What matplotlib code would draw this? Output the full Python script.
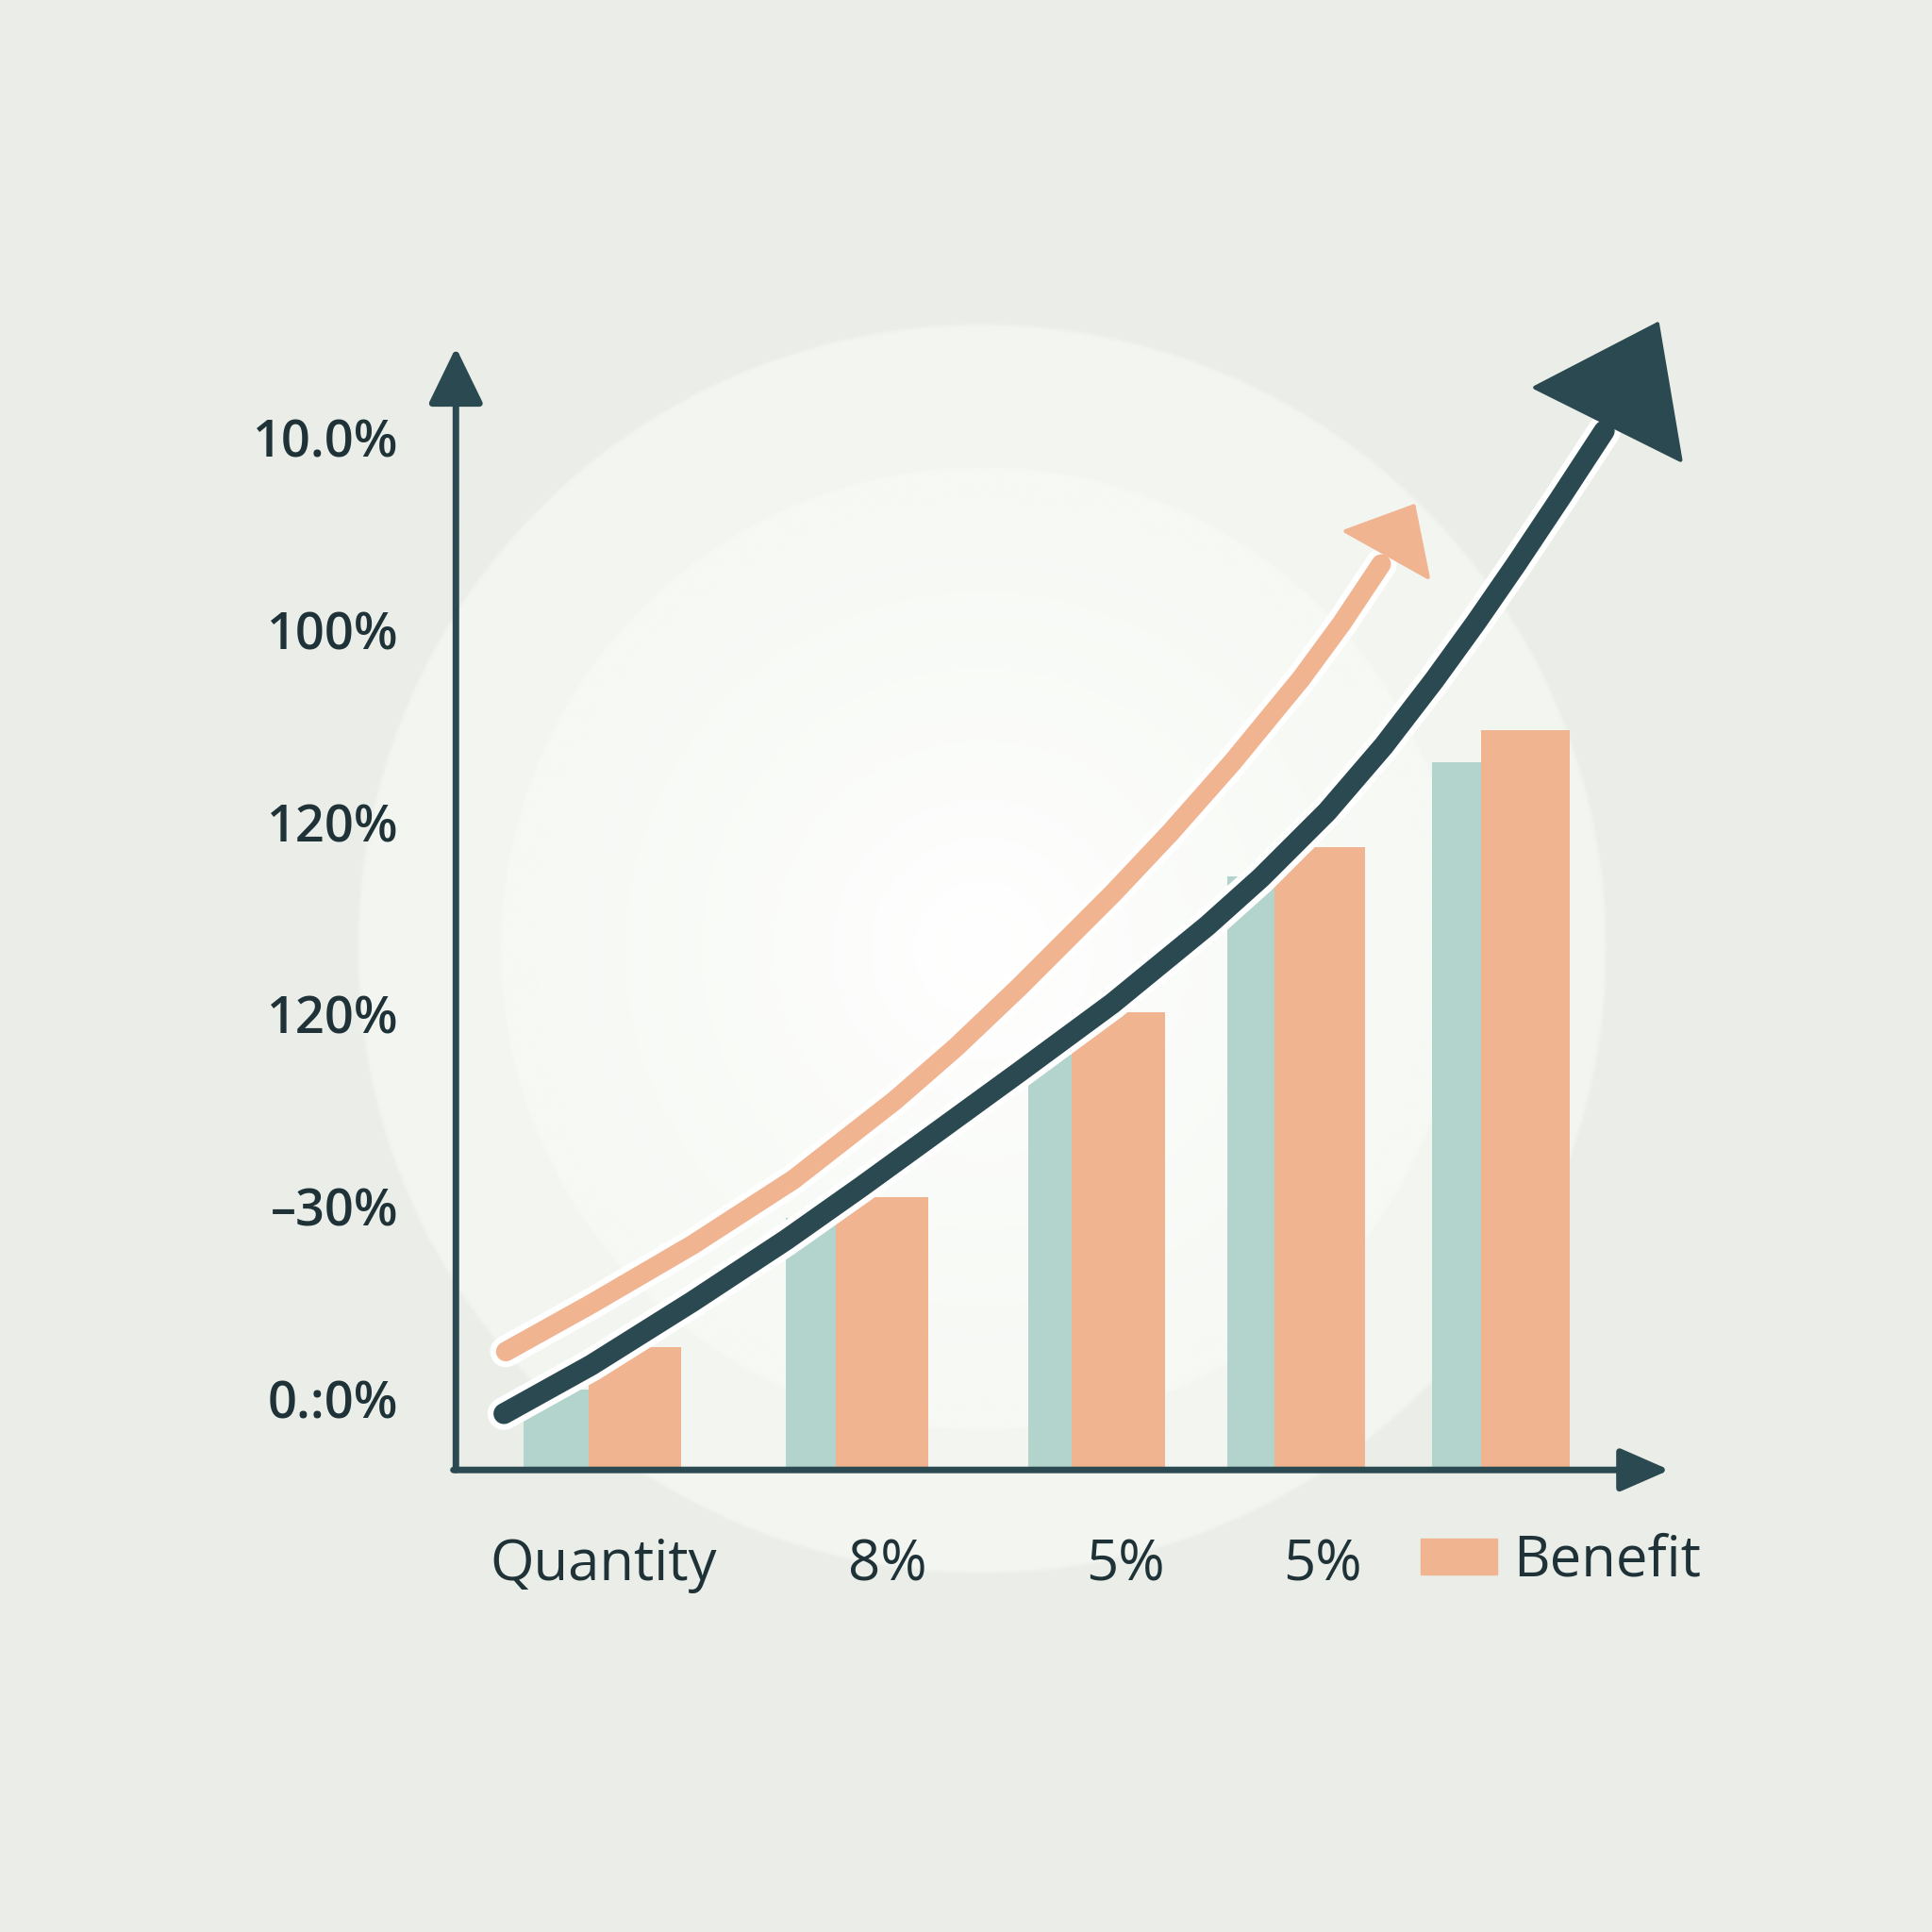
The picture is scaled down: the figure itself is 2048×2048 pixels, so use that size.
import numpy as np
import matplotlib
matplotlib.use("Agg")
import matplotlib.pyplot as plt
import matplotlib.patheffects as pe
from matplotlib.patches import Patch

# ----------------------------
# Dados
# ----------------------------
y_tick_labels = ["0.:0%", "\u201330%", "120%", "120%", "100%", "10.0%"]
x_tick_labels = ["Quantity", "8%", "5%", "5%"]
x_tick_pos = [1.20, 3.50, 5.43, 7.03]

# topo das barras (unidades do eixo y, 0 = "0.:0%")
quantity = [0.05, 0.94, 1.79, 2.72, 3.31]
benefit = [0.27, 1.05, 2.01, 2.87, 3.48]

# curvas de tendência (pontos lidos)
dark_x = [0.39, 1.10, 1.92, 2.68, 3.29, 3.80, 4.57, 5.33, 6.10, 6.535,
          7.07, 7.53, 7.94, 8.28, 8.60, 8.96, 9.32]
dark_y = [-0.077, 0.176, 0.506, 0.827, 1.103, 1.340, 1.699, 2.058, 2.462,
          2.712, 3.054, 3.397, 3.739, 4.040, 4.337, 4.683, 5.036]
dark_tip = (9.764, 5.607)

orange_x = [0.405, 1.10, 1.92, 2.74, 3.56, 4.06, 4.57, 5.335, 5.80, 6.30,
            6.86, 7.19, 7.51]
orange_y = [0.246, 0.494, 0.801, 1.141, 1.551, 1.830, 2.141, 2.631, 2.947,
            3.310, 3.747, 4.035, 4.343]
orange_tip = (7.785, 4.658)

# ----------------------------
# Layout / estilo
# ----------------------------
group_split = [1.074, 3.086, 5.00, 6.645, 8.32]
teal_w = [0.527, 0.407, 0.353, 0.385, 0.40]
orange_w = [0.755, 0.749, 0.756, 0.733, 0.72]

DARK = "#2b4950"
ORANGE = "#f0b491"
TEAL = "#b3d4cd"
TEXT = "#1e3237"
FONT = ["Open Sans", "DejaVu Sans"]

D = 1568.0  # escala de leitura da imagem
YMIN, YMAX = -0.37, 5.47
XMIN, XMAX = 0.0, 9.85

fig = plt.figure(figsize=(20.48, 20.48), dpi=100)

# ----------------------------
# Fundo com brilho radial
# ----------------------------
bg = fig.add_axes([0, 0, 1, 1])
yy, xx = np.mgrid[0:1568:2, 0:1568:2] + 1.0
r = np.hypot(xx - 797, yy - 770)
base = np.array([235, 238, 232]) / 255
c1 = np.array([243, 246, 240]) / 255
c2 = np.array([246, 249, 244]) / 255
img = np.ones(r.shape + (3,)) * base
m1 = np.clip((508 - r) / 3, 0, 1)[..., None]
img = img * (1 - m1) + c1 * m1
m2 = np.clip((392 - r) / 3, 0, 1)[..., None]
img = img * (1 - m2) + c2 * m2
glow = (np.clip(1 - r / 360, 0, 1) ** 1.1)[..., None]
img = img * (1 - glow) + np.ones(3) * glow
bg.imshow(img, extent=(0, 1568, 1568, 0), interpolation="bilinear")
bg.set_xlim(0, 1568)
bg.set_ylim(1568, 0)
bg.axis("off")

# ----------------------------
# Eixo principal
# ----------------------------
ax = fig.add_axes([370 / D, 1 - 1193 / D, 985 / D, 911 / D])
ax.set_facecolor("none")
ax.set_xlim(XMIN, XMAX)
ax.set_ylim(YMIN, YMAX)
for s in ax.spines.values():
    s.set_visible(False)

gx = np.array(group_split)
ax.bar(gx, np.array(quantity) - YMIN, width=-np.array(teal_w), bottom=YMIN,
       align="edge", color=TEAL, zorder=2)
ax.bar(gx, np.array(benefit) - YMIN, width=orange_w, bottom=YMIN,
       align="edge", color=ORANGE, zorder=2, label="Benefit")

# eixos com setas
ax.annotate("", xy=(0, YMAX), xytext=(0, YMIN), annotation_clip=False,
            arrowprops=dict(arrowstyle="-|>,head_length=37,head_width=18",
                            mutation_scale=1, color=DARK, lw=5,
                            shrinkA=0, shrinkB=0), zorder=5)
ax.annotate("", xy=(XMAX, YMIN), xytext=(-0.02, YMIN), annotation_clip=False,
            arrowprops=dict(arrowstyle="-|>,head_length=32,head_width=14",
                            mutation_scale=1, color=DARK, lw=5,
                            shrinkA=0, shrinkB=0), zorder=5)

# curvas de tendência
halo = lambda w: [pe.Stroke(linewidth=w + 9, foreground="white"), pe.Normal()]
ax.plot(orange_x, orange_y, color=ORANGE, lw=15, solid_capstyle="round",
        solid_joinstyle="round", zorder=3, clip_on=False, path_effects=halo(15))
ax.plot(dark_x, dark_y, color=DARK, lw=16, solid_capstyle="round",
        solid_joinstyle="round", zorder=4, clip_on=False, path_effects=halo(16))

ax.annotate("", xy=orange_tip, xytext=(orange_x[-1], orange_y[-1]),
            annotation_clip=False,
            arrowprops=dict(arrowstyle="-|>,head_length=42,head_width=36",
                            mutation_scale=1, color=ORANGE, lw=3,
                            joinstyle="round", shrinkA=0, shrinkB=0), zorder=3)
ax.annotate("", xy=dark_tip, xytext=(dark_x[-1], dark_y[-1]),
            annotation_clip=False,
            arrowprops=dict(arrowstyle="-|>,head_length=85,head_width=62",
                            mutation_scale=1, color=DARK, lw=3,
                            joinstyle="round", shrinkA=0, shrinkB=0), zorder=4)

# rótulos
ax.set_yticks(range(len(y_tick_labels)))
ax.set_yticklabels(y_tick_labels, fontsize=39, color=TEXT, family=FONT,
                   fontweight="semibold")
ax.set_xticks(x_tick_pos)
ax.set_xticklabels(x_tick_labels, fontsize=43, color=TEXT, family=FONT,
                   fontweight=500)
ax.tick_params(axis="y", length=0, pad=44)
ax.tick_params(axis="x", length=0, pad=51)

leg = ax.legend(handles=[Patch(color=ORANGE)], labels=["Benefit"],
                loc="center left", bbox_to_anchor=(1153 / D, 1 - 1267 / D),
                bbox_transform=fig.transFigure, frameon=False,
                prop={"family": FONT, "size": 43, "weight": 500},
                labelcolor=TEXT, handlelength=1.35, handleheight=0.6,
                handletextpad=0.3, borderpad=0, borderaxespad=0)

fig.savefig("out.png", dpi=100)
